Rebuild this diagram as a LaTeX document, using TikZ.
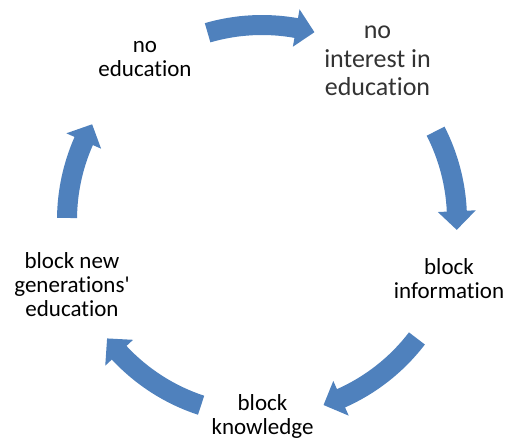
\documentclass[tikz,border=0pt]{standalone}
\usepackage{fontspec}
\setmainfont{Carlito}[Ligatures={NoCommon}]
\definecolor{arrowblue}{HTML}{4F81BD}
\newcommand\cyclearrow[2]{%
  \pgfmathsetmacro\hb{#2+5.5}%
  \fill[arrowblue, shift={(262pt,-220pt)}]
    (#1:205pt) arc[start angle=#1, end angle=\hb, radius=205pt]
    -- (\hb:214pt) -- (#2:195pt) -- (\hb:176pt) -- (\hb:185pt)
    arc[start angle=\hb, end angle=#1, radius=185pt] -- cycle;}
\tikzset{
  lbl/.style={align=center, inner sep=0pt, text=black,
    font=\fontsize{23}{24}\selectfont},
  lblbig/.style={align=center, inner sep=0pt, text=black!80,
    font=\fontsize{26}{28.5}\selectfont}
}
\begin{document}
\begin{tikzpicture}
\useasboundingbox (0pt,0pt) rectangle (510pt,-439pt);
\node[lbl] (noedu) at (145pt,-59pt) {no\\education};
\node[lblbig] (nointerest) at (377.5pt,-61pt) {no\\interest in\\education};
\node[lbl] (blockinfo) at (449pt,-279pt) {block\\information};
\node[lbl] (blockknow) at (262.5pt,-416pt) {block\\knowledge};
\node[lbl] (blocknew) at (72pt,-285pt) {block new\\generations\textquotesingle\\education};
\cyclearrow{106.2}{74.4}
\cyclearrow{27.1}{-2.9}
\cyclearrow{-37.4}{-71.6}
\cyclearrow{-108.2}{-142.6}
\cyclearrow{179.4}{150.6}
\end{tikzpicture}
\end{document}
